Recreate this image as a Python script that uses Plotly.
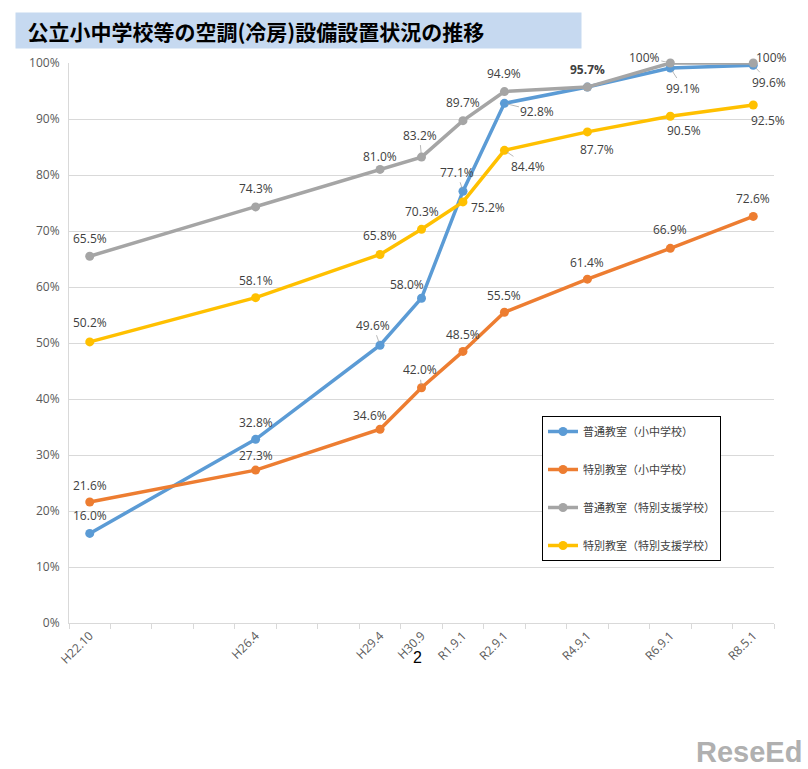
import plotly.graph_objects as go

# ---- data ----
categories = ["H22.10", "H26.4", "H29.4", "H30.9", "R1.9.1", "R2.9.1", "R4.9.1", "R6.9.1", "R8.5.1"]
slot_index = [0, 4, 7, 8, 9, 10, 12, 14, 16]  # yearly slots on the time axis

series_names = ["普通教室（小中学校）", "特別教室（小中学校）", "普通教室（特別支援学校）", "特別教室（特別支援学校）"]
blue_vals = [16.0, 32.8, 49.6, 58.0, 77.1, 92.8, 95.7, 99.1, 99.6]
orange_vals = [21.6, 27.3, 34.6, 42.0, 48.5, 55.5, 61.4, 66.9, 72.6]
gray_vals = [65.5, 74.3, 81.0, 83.2, 89.7, 94.9, 95.7, 100, 100]
yellow_vals = [50.2, 58.1, 65.8, 70.3, 75.2, 84.4, 87.7, 90.5, 92.5]
y_ticks = [0, 10, 20, 30, 40, 50, 60, 70, 80, 90, 100]

# ---- styles / label placement (pixels: dx, dy, leader line) ----
colors = ["#5b9bd5", "#ed7d31", "#a5a5a5", "#ffc000"]
label_pos = [
    [(0, -18, 0), (0, -17, 0), (-7, -20, 1), (-15, -14, 0), (-6, -19, 1), (33, 8, 1), None, (13, 20, 1), (16, 17, 1)],
    [(0, -17, 0), (0, -15, 0), (-10, -14, 0), (-2, -18, 1), (0, -17, 0), (0, -17, 0), (0, -17, 0), (0, -19, 0), (0, -18, 0)],
    [(0, -18, 0), (0, -18, 0), (0, -13, 0), (-2, -22, 1), (0, -18, 0), (0, -18, 0), (0, -18, 0), (-26, -6, 1), (18, -6, 0)],
    [(0, -19, 0), (0, -17, 0), (0, -19, 0), (0, -18, 0), (25, 6, 0), (24, 16, 1), (10, 18, 0), (14, 14, 0), (15, 15, 0)],
]

FONT = "Open Sans, Liberation Sans, Arial"
fig = go.Figure()
all_vals = [blue_vals, orange_vals, gray_vals, yellow_vals]
for i, (name, vals) in enumerate(zip(series_names, all_vals)):
    fig.add_trace(go.Scatter(
        x=slot_index, y=vals, name=name, mode="lines+markers",
        line=dict(color=colors[i], width=3.5),
        marker=dict(color=colors[i], size=9),
        legendgroup=str(i), cliponaxis=False,
    ))

annotations = []
for i, vals in enumerate(all_vals):
    for j, v in enumerate(vals):
        pos = label_pos[i][j]
        if pos is None:
            continue
        dx, dy, leader = pos
        txt = f"{v:.1f}%" if v < 100 else "100%"
        if i == 2 and j == 6:
            txt = f"<b>{txt}</b>"
        annotations.append(dict(
            x=slot_index[j], y=v, xref="x", yref="y", text=txt,
            showarrow=True, ax=dx, ay=dy, axref="pixel", ayref="pixel",
            arrowhead=0, arrowwidth=0.8, standoff=3,
            arrowcolor="#a6a6a6" if leader else "rgba(0,0,0,0)",
            font=dict(family=FONT, size=12, color="#404040"),
        ))

# title box
annotations.append(dict(
    xref="paper", yref="paper", x=(15 - 69) / 705, y=(623 - 12) / 560,
    xanchor="left", yanchor="top", showarrow=False, align="left",
    text="&nbsp;&nbsp;<b>公立小中学校等の空調(冷房)設備設置状況の推移</b>",
    font=dict(family="Noto Sans CJK JP", size=21, color="#000000"),
    bgcolor="#c6d9f0", width=561, height=31, borderpad=2,
))
# page number
annotations.append(dict(
    xref="paper", yref="paper", x=(417 - 69) / 705, y=(623 - 668) / 560,
    showarrow=False, text="2", font=dict(family="Liberation Sans", size=16, color="#000000"),
))
# watermark
annotations.append(dict(
    xref="paper", yref="paper", x=(804 - 69) / 705, y=(623 - 770) / 560,
    xanchor="right", yanchor="bottom", showarrow=False, text="<b>ReseEd</b>",
    font=dict(family="Liberation Sans", size=29, color="#b0b0b0"),
))

fig.update_layout(
    width=808, height=769,
    margin=dict(l=69, r=34, t=63, b=146),
    paper_bgcolor="white", plot_bgcolor="white",
    showlegend=True,
    legend=dict(
        x=(542 - 69) / 705, y=(623 - 416) / 560, xanchor="left", yanchor="top",
        bordercolor="#000000", borderwidth=1, bgcolor="white",
        font=dict(family="Noto Sans CJK JP", size=11, color="#404040"),
        tracegroupgap=19, itemwidth=30,
    ),
    annotations=annotations,
    xaxis=dict(
        range=[-0.5, 16.5], tickmode="array", tickvals=slot_index, ticktext=categories,
        tickangle=-45, ticks="", showgrid=False, zeroline=False,
        showline=True, linecolor="#d9d9d9", linewidth=1,
        tickfont=dict(family=FONT, size=12, color="#595959"),
        minor=dict(tickmode="linear", tick0=0.5, dtick=1, ticks="outside", ticklen=5,
                   tickcolor="#d9d9d9", showgrid=False),
    ),
    yaxis=dict(
        range=[0, 100], tickmode="array", tickvals=y_ticks,
        ticktext=[f"{t}%" for t in y_ticks],
        showgrid=True, gridcolor="#d9d9d9", gridwidth=1, zeroline=False,
        showline=True, linecolor="#d9d9d9", linewidth=1,
        tickfont=dict(family=FONT, size=12, color="#595959"),
        ticks="", ticklabelstandoff=6,
    ),
)

fig.write_html("out.html")
